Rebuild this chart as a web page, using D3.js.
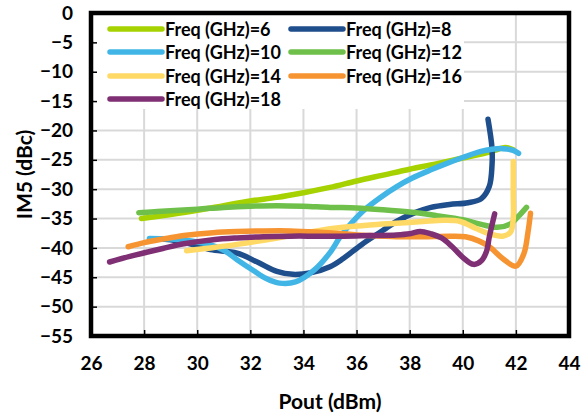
<!DOCTYPE html>
<html>
<head>
<meta charset="utf-8">
<script src="https://cdn.jsdelivr.net/npm/d3@7"></script>
<style>
  body { margin: 0; background: #fff; }
  svg text { font-family: Lato, "Open Sans", sans-serif; font-weight: 700; fill: #000; }
</style>
</head>
<body>
<div id="chart"></div>
<script>
// series labels + colours
const labels = ['Freq (GHz)=6', 'Freq (GHz)=8', 'Freq (GHz)=10', 'Freq (GHz)=12', 'Freq (GHz)=14', 'Freq (GHz)=16', 'Freq (GHz)=18'];
const colors = ['#a5d200', '#1f4e8c', '#41b6e6', '#6fc04a', '#ffd966', '#f79432', '#7f2f73'];

// [Pout, IM5]
const f6 = [[27.9,-35.0],[29,-34.3],[30,-33.6],[31,-32.8],[32,-32.0],[33,-31.4],[34,-30.6],[35,-29.7],[36,-28.6],[37,-27.6],[38,-26.6],[39,-25.7],[40,-24.7],[41,-23.7],[41.6,-22.9],[41.9,-23.3]];
const f8 = [[28.3,-38.5],[29,-38.6],[30,-39.6],[30.5,-40.3],[31.5,-40.9],[32.3,-42.5],[33,-44.0],[33.6,-44.5],[34.3,-44.2],[35,-43.2],[35.5,-41.8],[36.2,-39.4],[37,-37.0],[37.5,-35.5],[38.2,-34.0],[38.8,-33.1],[39.5,-32.6],[40.2,-32.3],[40.7,-31.6],[41.0,-29.5],[41.1,-26],[41.1,-23],[40.95,-18.1]];
const f10 = [[28.2,-38.4],[29,-38.5],[30,-39.0],[30.5,-39.5],[31,-40.4],[31.5,-42],[32.1,-43.8],[32.6,-45.2],[33.1,-46.0],[33.7,-45.8],[34.4,-43.8],[35,-40.8],[35.4,-38],[35.8,-35.8],[36.3,-33.5],[36.9,-31.4],[37.5,-29.6],[38.1,-28.1],[38.8,-26.7],[39.4,-25.6],[40,-24.6],[40.65,-23.6],[41.1,-23.2],[41.5,-23.1],[41.9,-23.4],[42.1,-23.9]];
const f12 = [[27.8,-34.0],[28.5,-33.8],[30,-33.4],[31,-33.1],[32,-32.9],[33,-32.8],[34,-32.9],[35,-33.1],[36,-33.2],[37,-33.5],[38,-33.9],[39,-34.5],[40,-35.2],[40.7,-36.0],[41.3,-36.5],[41.8,-35.9],[42.1,-34.6],[42.4,-33.1]];
const f14 = [[29.6,-40.5],[30.5,-40.0],[31.5,-39.4],[32.5,-38.7],[33.5,-37.9],[34.5,-37.1],[35.5,-36.5],[36.5,-36.1],[37.5,-35.8],[38.5,-35.5],[39.3,-35.3],[39.9,-35.5],[40.5,-36.7],[41,-37.6],[41.5,-38.0],[41.8,-37.3],[41.9,-35],[41.9,-30.7],[41.9,-25.3]];
const f16 = [[27.4,-39.8],[28,-39.1],[28.7,-38.5],[29.5,-37.9],[30.6,-37.4],[31.5,-37.2],[32.5,-37.1],[33.5,-37.1],[34.5,-37.3],[35.5,-37.6],[36.5,-37.9],[37.5,-38.1],[38.5,-38.1],[39.5,-38.0],[40.1,-38.1],[40.6,-38.8],[41,-39.8],[41.5,-41.8],[42,-43.1],[42.3,-41],[42.45,-37.5],[42.55,-34.1]];
const f18 = [[26.7,-42.4],[27.5,-41.4],[28.7,-40.1],[29.5,-39.3],[30.6,-38.6],[31.5,-38.3],[32.5,-38.1],[33.5,-38.0],[34.5,-38.0],[35.5,-38.0],[36.5,-37.9],[37.5,-37.8],[38,-37.6],[38.4,-37.2],[38.8,-37.6],[39.2,-38.3],[39.6,-39.8],[40,-41.6],[40.4,-42.8],[40.7,-42.2],[40.9,-40.5],[41.0,-38.1],[41.2,-34.2]];
const series = [f6, f8, f10, f12, f14, f16, f18];

const xTicks = d3.range(26, 45, 2);
const yTicks = d3.range(0, -56, -5);

const W = 588, H = 417;
const pL = 91, pR = 569, pT = 13, pB = 336;

const x = d3.scaleLinear().domain([26, 44]).range([pL, pR]);
const y = d3.scaleLinear().domain([-55, 0]).range([pB, pT]);

const svg = d3.select('#chart').append('svg')
  .attr('width', W).attr('height', H);

// grid
svg.append('g').selectAll('line').data(xTicks.slice(1, -1)).enter().append('line')
  .attr('x1', d => x(d)).attr('x2', d => x(d))
  .attr('y1', pT).attr('y2', pB)
  .attr('stroke', '#d9d9d9').attr('stroke-width', 2);
svg.append('g').selectAll('line').data(yTicks.slice(1, -1)).enter().append('line')
  .attr('y1', d => y(d)).attr('y2', d => y(d))
  .attr('x1', pL).attr('x2', pR)
  .attr('stroke', '#d9d9d9').attr('stroke-width', 2);

// legend background sits over the grid
svg.append('rect')
  .attr('x', pL + 3).attr('y', pT + 2)
  .attr('width', 464 - pL - 3).attr('height', 109 - pT - 2)
  .attr('fill', '#fff');

// lines
const line = d3.line()
  .x(d => x(d[0])).y(d => y(d[1]))
  .curve(d3.curveCatmullRom.alpha(0.5));

svg.append('g').selectAll('path').data(series).enter().append('path')
  .attr('d', line)
  .attr('fill', 'none')
  .attr('stroke', (d, i) => colors[i])
  .attr('stroke-width', 5.5)
  .attr('stroke-linecap', 'round')
  .attr('stroke-linejoin', 'round');

// axes (inner ticks)
const xAxis = d3.axisBottom(x).tickValues(xTicks).tickSize(-6).tickPadding(21);
const yAxis = d3.axisLeft(y).tickValues(yTicks).tickSize(-6).tickPadding(18);

const gx = svg.append('g').attr('transform', 'translate(0,' + pB + ')').call(xAxis);
const gy = svg.append('g').attr('transform', 'translate(' + pL + ',0)').call(yAxis);
[gx, gy].forEach(g => {
  g.select('.domain').remove();
  g.selectAll('.tick line').attr('stroke', '#000').attr('stroke-width', 1.5);
  g.selectAll('text').style('font-size', '19px');
});

// frame
svg.append('rect')
  .attr('x', pL).attr('y', pT)
  .attr('width', pR - pL).attr('height', pB - pT)
  .attr('fill', 'none').attr('stroke', '#000').attr('stroke-width', 4.5);

// legend
const legX = [110, 291];
const legY = [29, 52, 76, 99];
const leg = svg.append('g').selectAll('g').data(labels).enter().append('g')
  .attr('transform', (d, i) => 'translate(' + legX[i % 2] + ',' + legY[Math.floor(i / 2)] + ')');
leg.append('line')
  .attr('x1', 0).attr('x2', 52).attr('y1', 0).attr('y2', 0)
  .attr('stroke', (d, i) => colors[i])
  .attr('stroke-width', 5.5).attr('stroke-linecap', 'round');
leg.append('text')
  .attr('x', 55).attr('y', 6.5)
  .style('font-size', '18px')
  .text(d => d);

// axis titles
svg.append('text')
  .attr('x', (pL + pR) / 2).attr('y', 409)
  .attr('text-anchor', 'middle')
  .style('font-size', '21px')
  .text('Pout (dBm)');

svg.append('text')
  .attr('transform', 'translate(32,' + ((pT + pB) / 2) + ') rotate(-90)')
  .attr('text-anchor', 'middle')
  .style('font-size', '21px')
  .text('IM5 (dBc)');
</script>
</body>
</html>
